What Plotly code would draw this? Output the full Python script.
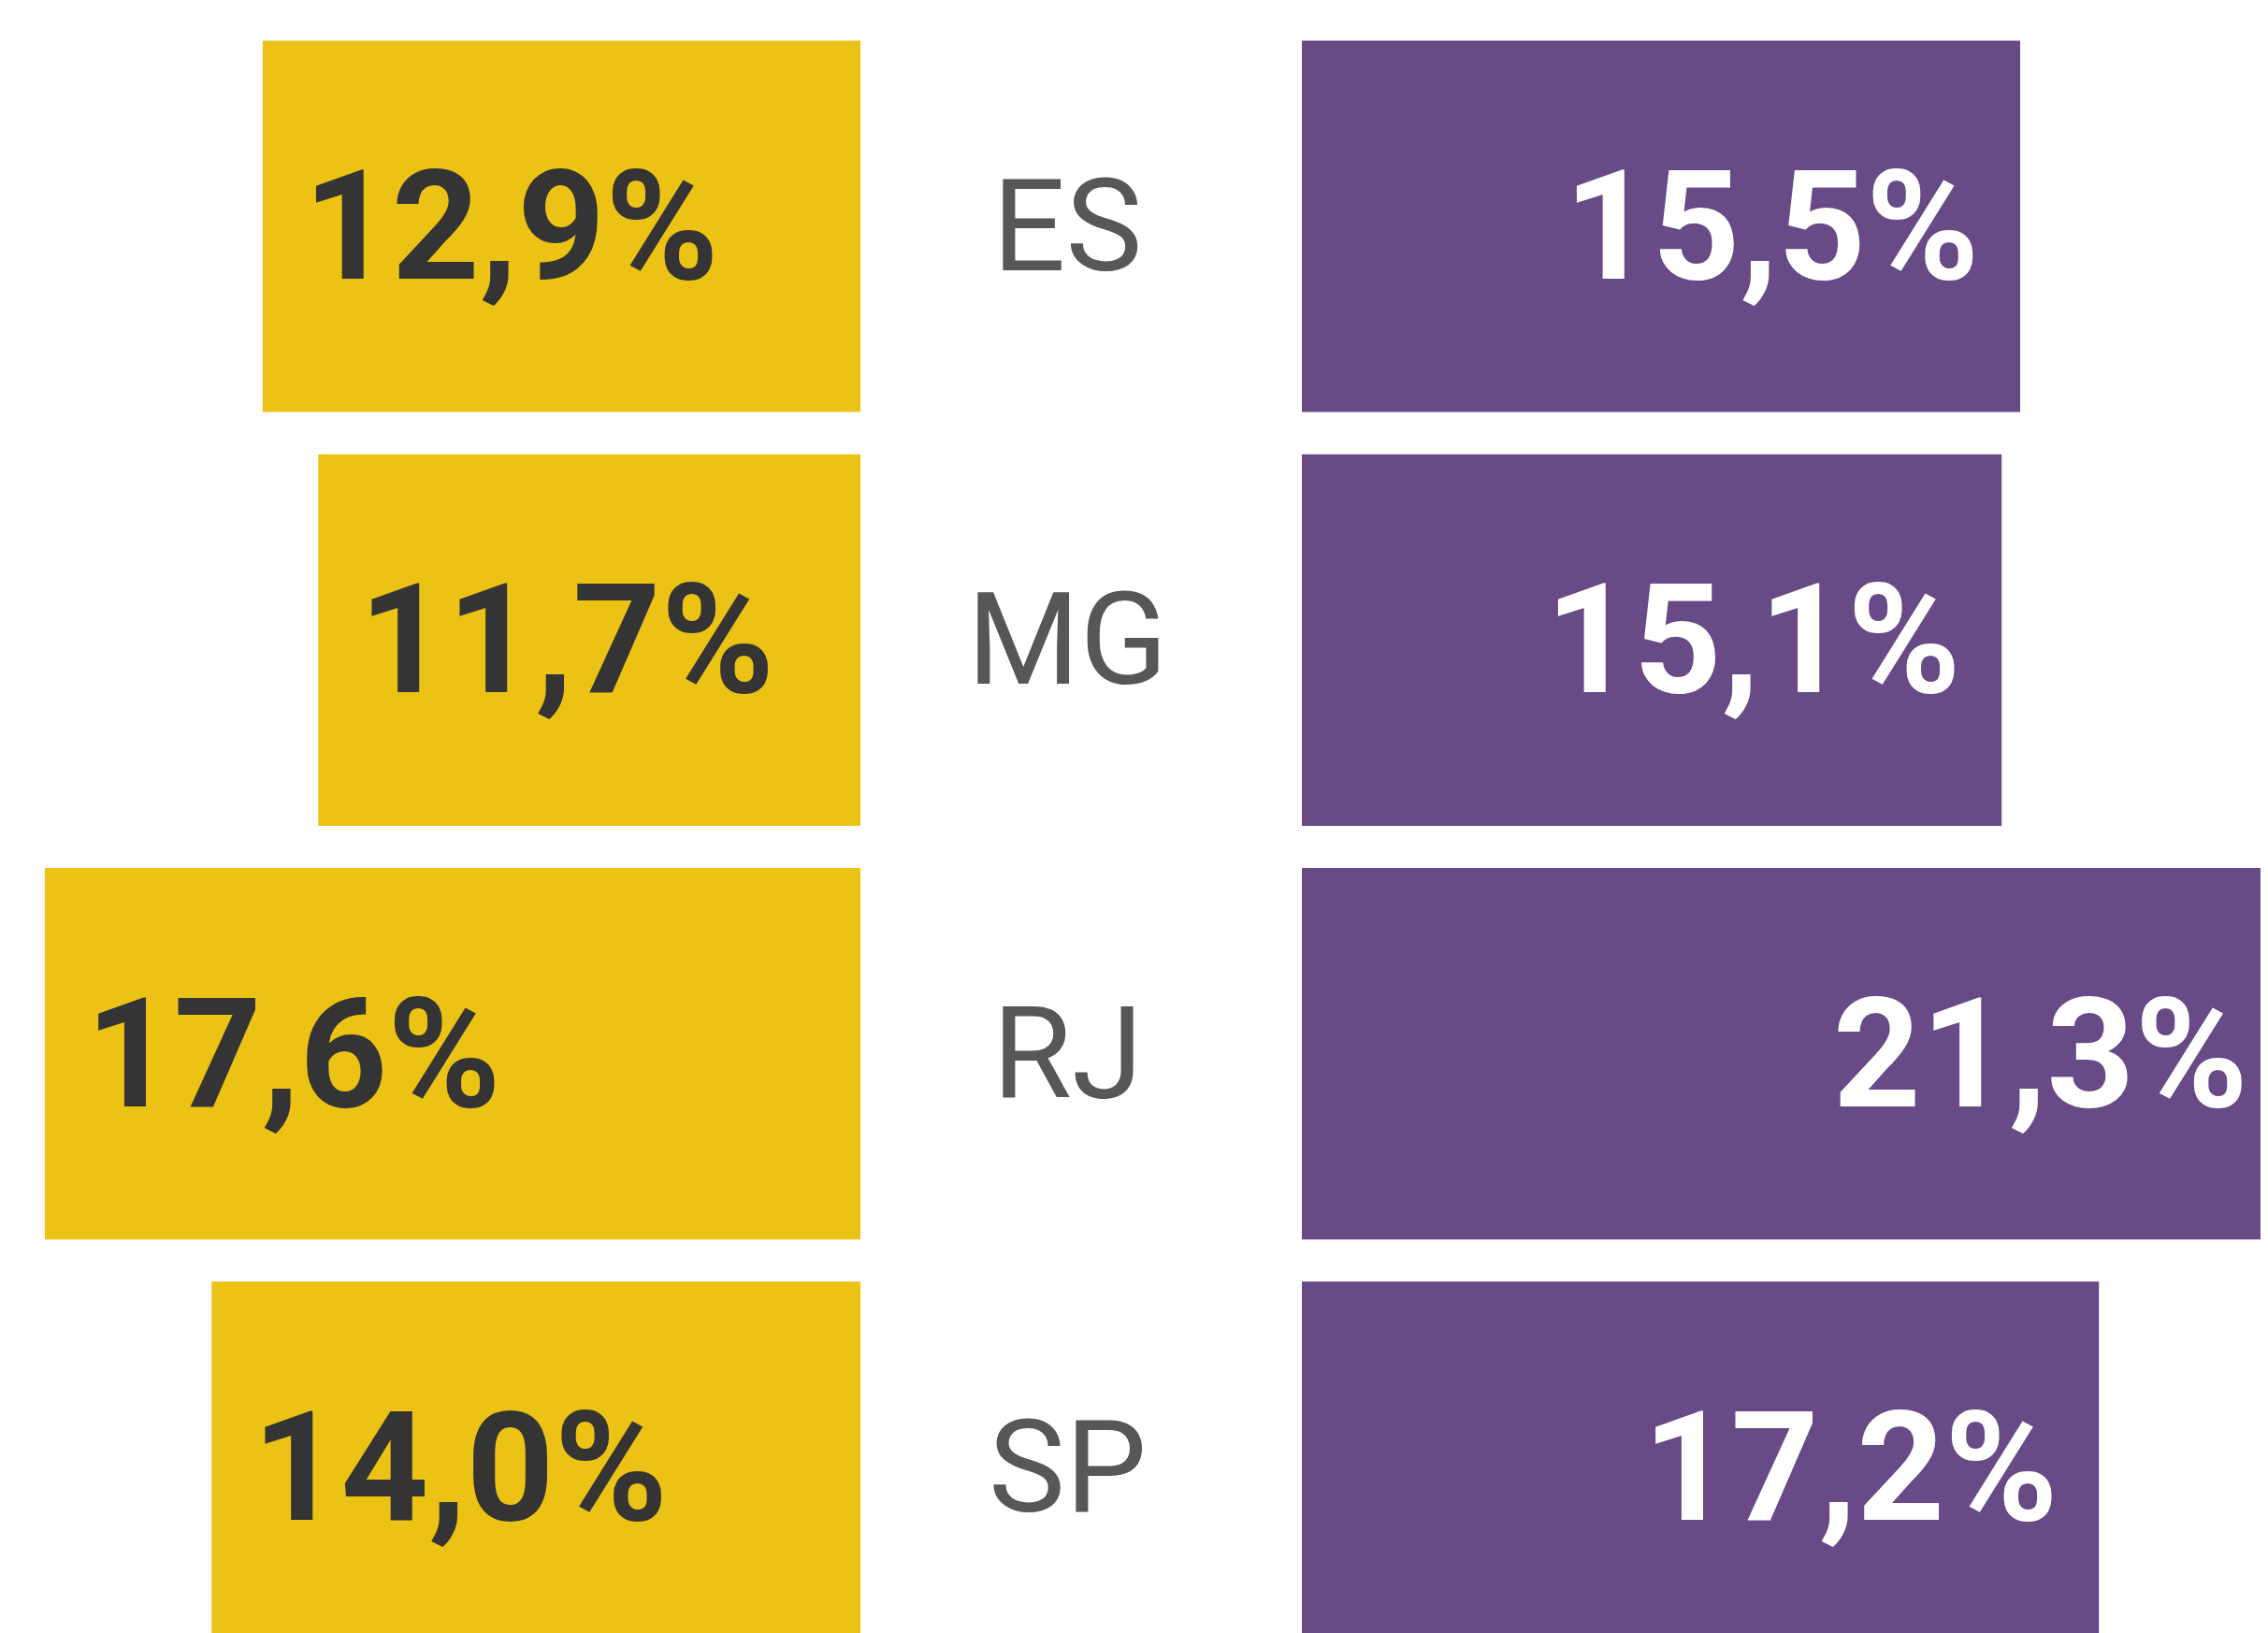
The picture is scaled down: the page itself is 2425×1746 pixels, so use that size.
import plotly.graph_objects as go

# Data
states = ["ES", "MG", "RJ", "SP"]
left_values = [12.9, 11.7, 17.6, 14.0]
right_values = [15.5, 15.1, 21.3, 17.2]

YELLOW = "#ECC215"
PURPLE = "#674A86"
DARK = "#343434"
GRAY = "#575757"
NUM_FONT = "Roboto, DejaVu Sans Condensed, sans-serif"

OFF = 8  # page body margin
W, H = 2425 - OFF, 1746 - OFF
PPU = 49.55  # px per percentage point
LEFT_ZERO = 920 - OFF
RIGHT_ZERO = 1392 - OFF

fig = go.Figure()

fig.add_trace(go.Bar(
    y=states, x=left_values, orientation="h",
    xaxis="x", yaxis="y",
    marker=dict(color=YELLOW, line=dict(width=0)),
    texttemplate="\u00a0%{x:.1f}%",
    textposition="inside", insidetextanchor="end",
    insidetextfont=dict(family=NUM_FONT, size=164, color=DARK, weight="bold"),
    constraintext="none",
    hoverinfo="skip", showlegend=False,
))

fig.add_trace(go.Bar(
    y=states, x=right_values, orientation="h",
    xaxis="x2", yaxis="y",
    marker=dict(color=PURPLE, line=dict(width=0)),
    texttemplate="%{x:.1f}%\u00a0",
    textposition="inside", insidetextanchor="end",
    insidetextfont=dict(family=NUM_FONT, size=164, color="white", weight="bold"),
    constraintext="none",
    hoverinfo="skip", showlegend=False,
))

for s in states:
    fig.add_annotation(
        x=(1141 - OFF) / W, xref="paper", y=s, yref="y",
        text=s, showarrow=False, xanchor="center", yanchor="middle",
        font=dict(family=NUM_FONT, size=138, color=GRAY),
    )

top_px = 242 - OFF
ppy = 442.3
fig.update_layout(
    width=W, height=H,
    margin=dict(l=0, r=0, t=0, b=0, pad=0),
    paper_bgcolor="white", plot_bgcolor="white",
    separators=",.",
    bargap=0.102,
    xaxis=dict(domain=[0, LEFT_ZERO / W], range=[LEFT_ZERO / PPU, 0],
               visible=False, fixedrange=True),
    xaxis2=dict(domain=[RIGHT_ZERO / W, 1], range=[0, (W - RIGHT_ZERO) / PPU],
                visible=False, fixedrange=True, anchor="y"),
    yaxis=dict(type="category", categoryorder="array", categoryarray=states,
               range=[-top_px / ppy + H / ppy, -top_px / ppy],
               visible=False, fixedrange=True),
)

fig.write_html("out.html")
